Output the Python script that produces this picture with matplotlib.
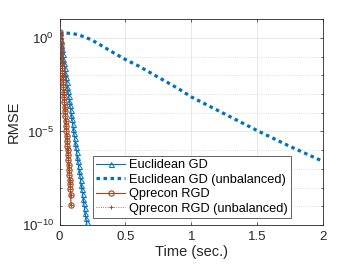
import numpy as np
import matplotlib
matplotlib.use("Agg")
import matplotlib.pyplot as plt

plt.rcParams["font.family"] = ["Liberation Sans", "DejaVu Sans"]
plt.rcParams["mathtext.fontset"] = "custom"
plt.rcParams["mathtext.rm"] = "Liberation Sans"
plt.rcParams["mathtext.it"] = "Liberation Sans:italic"

# ---- data (log10 RMSE) ----
t_egd = [0.0, 0.005, 0.010, 0.015, 0.020, 0.025, 0.030, 0.035, 0.040, 0.045,
         0.050, 0.055, 0.060, 0.065, 0.070, 0.075, 0.080, 0.085, 0.090, 0.095,
         0.100, 0.105, 0.110, 0.115, 0.120, 0.125, 0.130, 0.135, 0.140, 0.145,
         0.150, 0.155, 0.160, 0.165, 0.170, 0.175, 0.180, 0.185, 0.190, 0.195,
         0.200, 0.205, 0.210]
log_egd = [0.30, 0.12, -0.10, -0.35, -0.60, -0.85, -1.10, -1.35, -1.60, -1.85,
           -2.10, -2.35, -2.60, -2.85, -3.10, -3.35, -3.60, -3.85, -4.10, -4.35,
           -4.60, -4.85, -5.10, -5.35, -5.60, -5.85, -6.10, -6.35, -6.60, -6.85,
           -7.10, -7.35, -7.60, -7.85, -8.10, -8.35, -8.60, -8.85, -9.10, -9.35,
           -9.60, -9.85, -10.10]

t_egd_unb = [0.0, 0.05, 0.1, 0.15, 0.2, 0.25, 0.3, 0.4, 0.5, 0.6, 0.7, 0.8, 0.9,
             1.0, 1.25, 1.5, 1.75, 2.0]
log_egd_unb = [0.23, 0.26, 0.24, 0.15, 0.03, -0.13, -0.33, -0.75, -1.15, -1.50,
               -1.90, -2.30, -2.70, -3.15, -4.05, -4.95, -5.80, -6.60]

t_qp = [0.0, 0.0025, 0.005, 0.0075, 0.010, 0.0125, 0.015, 0.0175, 0.020, 0.0225,
        0.025, 0.0275, 0.030, 0.0325, 0.035, 0.0375, 0.040, 0.0425, 0.045, 0.0475,
        0.050, 0.0525, 0.055, 0.0575, 0.060, 0.0625, 0.065, 0.0675, 0.070, 0.0725,
        0.075, 0.0775, 0.080, 0.0825, 0.085, 0.087]
log_qp = [0.30, 0.15, -0.05, -0.30, -0.55, -0.81, -1.07, -1.33, -1.59, -1.85,
          -2.11, -2.37, -2.63, -2.89, -3.15, -3.41, -3.67, -3.93, -4.19, -4.45,
          -4.71, -4.97, -5.23, -5.49, -5.75, -6.01, -6.27, -6.53, -6.79, -7.05,
          -7.31, -7.57, -7.83, -8.09, -8.40, -8.95]

t_qp_unb = t_qp
log_qp_unb = log_qp

labels = ["Euclidean GD", "Euclidean GD (unbalanced)", "Qprecon RGD",
          "Qprecon RGD (unbalanced)"]
xticks = [0, 0.5, 1, 1.5, 2]

blue = "#0072BD"
brown = "#A5461E"

fig = plt.figure(figsize=(3.57, 2.64), dpi=100)
ax = fig.add_axes([0.1667, 0.1477, 0.7381, 0.7793])

ax.plot(t_egd, 10 ** np.array(log_egd), color=blue, lw=0.8, marker="^",
        ms=3.6, mfc="none", mew=0.7, label=labels[0], zorder=3)
ax.plot(t_egd_unb, 10 ** np.array(log_egd_unb), color=blue, lw=2.3,
        dashes=(1.1, 1.1), label=labels[1], zorder=3)
ax.plot(t_qp_unb, 10 ** np.array(log_qp_unb), color=brown, lw=0.6, ls=":",
        marker="+", ms=3.5, mew=0.7, label=labels[3], zorder=2)
ax.plot(t_qp, 10 ** np.array(log_qp), color=brown, lw=0.8, marker="o",
        ms=3.8, mfc="none", mew=0.8, label=labels[2], zorder=4)

ax.set_yscale("log")
ax.set_xlim(0, 2)
ax.set_ylim(1e-10, 1e1)
ax.set_xticks(xticks)
ax.set_xticklabels(["0", "0.5", "1", "1.5", "2"])
ax.set_yticks([1e-10, 1e-5, 1e0])
ax.yaxis.set_minor_locator(matplotlib.ticker.LogLocator(base=10, subs=[1.0], numticks=20))
ax.yaxis.set_minor_formatter(matplotlib.ticker.NullFormatter())

ax.grid(True, which="major", color="#E3E3E3", lw=0.6, ls="-")
ax.grid(True, which="minor", axis="y", color="#D5D5D5", lw=0.6, ls=":")
ax.set_axisbelow(True)

ax.tick_params(direction="in", which="both", top=True, right=True,
               labelsize=9.5, colors="#262626", length=2.5, width=0.5, pad=4)
ax.tick_params(which="minor", length=1.5)
for s in ax.spines.values():
    s.set_color("#262626")
    s.set_linewidth(0.6)

ax.set_xlabel("Time (sec.)", fontsize=10.5, color="#262626", labelpad=2)
ax.set_ylabel("RMSE", fontsize=10.5, color="#262626", labelpad=1)

h, l = ax.get_legend_handles_labels()
order = [0, 1, 3, 2]
leg = ax.legend([h[i] for i in order], [l[i] for i in order],
                loc="lower left", bbox_to_anchor=(0.126, 0.034),
                fontsize=9.2, fancybox=False, framealpha=1, edgecolor="#262626",
                handlelength=2.3, labelspacing=0.2, borderpad=0.25,
                handletextpad=0.3, borderaxespad=0)
leg.get_frame().set_linewidth(0.5)

fig.savefig("out.png", dpi=100)
